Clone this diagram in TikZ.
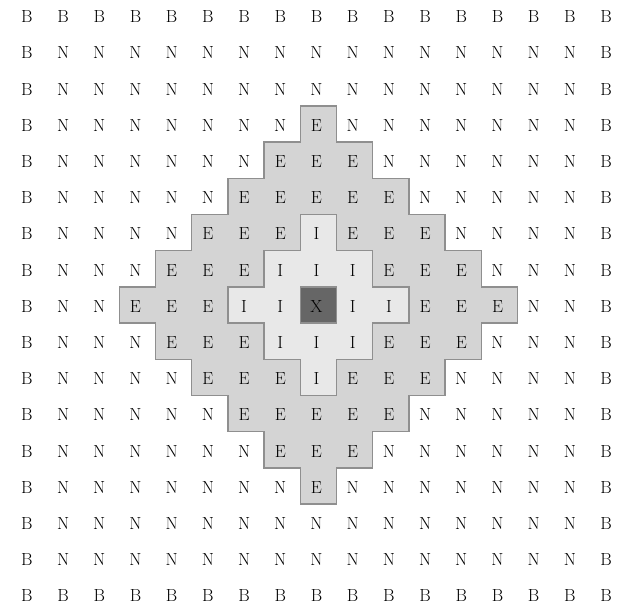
\documentclass[tikz,border=0pt]{standalone}
\definecolor{efill}{gray}{0.83}
\definecolor{ifill}{gray}{0.91}
\definecolor{xfill}{gray}{0.40}
\definecolor{edgegray}{gray}{0.56}
\definecolor{ink}{gray}{0.0}
\tikzset{
  cellletter/.style={font=\fontsize{17.5}{20}\selectfont, text=ink, inner sep=0pt},
  region/.style={draw=edgegray, line width=1.4pt, line join=miter},
}
\begin{document}
\begin{tikzpicture}[x=1pt,y=-1pt]
\useasboundingbox (0,0) rectangle (618,608);
\begin{scope}[shift={(318.3,305)}, x=36.2pt, y=-36.2pt]
  % E region (distance 3..5)
  \filldraw[region, fill=efill] (-0.5,-5.5)
    \foreach \k in {0,...,4} { -- (\k+0.5,\k-5.5) -- (\k+0.5,\k-4.5) } -- (5.5,-0.5)
    \foreach \k in {0,...,4} { -- (5.5-\k,\k+0.5) -- (4.5-\k,\k+0.5) } -- (0.5,5.5)
    \foreach \k in {0,...,4} { -- (-\k-0.5,5.5-\k) -- (-\k-0.5,4.5-\k) } -- (-5.5,0.5)
    \foreach \k in {0,...,4} { -- (\k-5.5,-\k-0.5) -- (\k-4.5,-\k-0.5) } -- cycle;
  % I region (distance 1..2)
  \filldraw[region, fill=ifill] (-0.5,-2.5)
    \foreach \k in {0,1} { -- (\k+0.5,\k-2.5) -- (\k+0.5,\k-1.5) } -- (2.5,-0.5)
    \foreach \k in {0,1} { -- (2.5-\k,\k+0.5) -- (1.5-\k,\k+0.5) } -- (0.5,2.5)
    \foreach \k in {0,1} { -- (-\k-0.5,2.5-\k) -- (-\k-0.5,1.5-\k) } -- (-2.5,0.5)
    \foreach \k in {0,1} { -- (\k-2.5,-\k-0.5) -- (\k-1.5,-\k-0.5) } -- cycle;
  % X cell
  \filldraw[region, fill=xfill] (-0.5,-0.5) rectangle (0.5,0.5);
  % letters
  \foreach \i in {0,...,16}{
    \foreach \j in {0,...,16}{
      \pgfmathtruncatemacro\dd{abs(\i-8)+abs(\j-8)}
      \pgfmathtruncatemacro\rim{(\i==0)||(\i==16)||(\j==0)||(\j==16)}
      \ifnum\rim=1 \def\cellchar{B}\else
        \ifnum\dd=0 \def\cellchar{X}\else
          \ifnum\dd<3 \def\cellchar{I}\else
            \ifnum\dd<6 \def\cellchar{E}\else \def\cellchar{N}\fi
          \fi
        \fi
      \fi
      \node[cellletter] (c-\i-\j) at (\i-8-0.05,\j-8+0.035) {\cellchar};
    }
  }
\end{scope}
\end{tikzpicture}
\end{document}
